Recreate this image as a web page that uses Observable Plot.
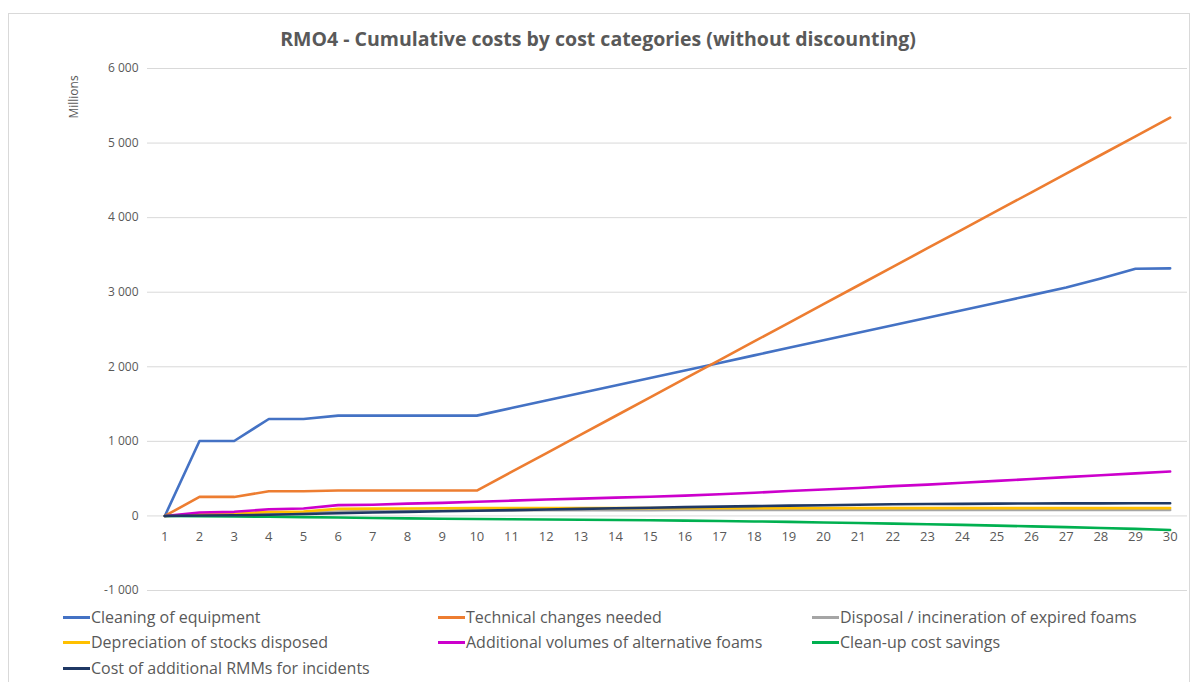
<!DOCTYPE html>
<html>
<head>
<meta charset="utf-8">
<script src="https://cdn.jsdelivr.net/npm/d3@7"></script>
<script src="https://cdn.jsdelivr.net/npm/@observablehq/plot@0.6"></script>
<style>
  html, body { margin: 0; padding: 0; background: #fff; }
  #wrap { position: relative; width: 1192px; height: 682px; overflow: hidden; font-family: "Open Sans", sans-serif; color: #595959; }
  #frame { position: absolute; left: 8px; top: 13px; width: 1182px; height: 680px; border: 1px solid #d9d9d9; box-sizing: border-box; }
  #title { position: absolute; left: 0; width: 1196px; top: 25px; text-align: center; font-size: 19.5px; font-weight: bold; color: #595959; }
  #unit { position: absolute; left: 73px; top: 97px; transform: translate(-50%, -50%) rotate(-90deg); font-size: 12px; color: #595959; white-space: nowrap; }
  #chart { position: absolute; left: 0; top: 0; }
  .leg { position: absolute; font-size: 16px; color: #595959; white-space: nowrap; display: flex; align-items: center; }
  .leg span.sw { display: inline-block; width: 27px; height: 3px; margin-right: 1px; }
</style>
</head>
<body>
<div id="wrap">
  <div id="frame"></div>
  <div id="chart"></div>
  <div id="title">RMO4 - Cumulative costs by cost categories (without discounting)</div>
  <div id="unit">Millions</div>
  <div id="legend"></div>
</div>
<script>
// ---- data ----
const years = [1,2,3,4,5,6,7,8,9,10,11,12,13,14,15,16,17,18,19,20,21,22,23,24,25,26,27,28,29,30];
const yTicks = [-1000, 0, 1000, 2000, 3000, 4000, 5000, 6000];

const seriesNames = [
  "Cleaning of equipment",
  "Technical changes needed",
  "Disposal / incineration of expired foams",
  "Depreciation of stocks disposed",
  "Additional volumes of alternative foams",
  "Clean-up cost savings",
  "Cost of additional RMMs for incidents"
];
const seriesColors = ["#4472C4", "#ED7D31", "#A5A5A5", "#FFC000", "#CC00CC", "#00B050", "#1F3864"];

const cleaning = [0,1005,1005,1300,1300,1345,1345,1345,1345,1345,1446,1547,1648,1749,1850,1951,2052,2153,2254,2355,2456,2557,2658,2759,2860,2961,3062,3185,3315,3320];
const technical = [0,255,255,330,330,340,340,340,340,340,590,840,1090,1340,1590,1840,2090,2340,2590,2840,3090,3340,3590,3840,4090,4340,4590,4840,5090,5340];
const disposal = [0,15,20,35,40,60,65,70,72,74,75,76,77,78,78,79,79,80,80,80,80,80,80,80,80,80,80,80,80,80];
const depreciation = [0,25,30,55,60,95,98,100,102,104,105,105,105,105,105,105,105,105,105,105,105,105,105,105,105,105,105,105,105,105];
const additional = [0,45,55,90,100,145,150,165,175,190,205,220,232,245,258,272,290,310,335,355,375,400,420,445,470,495,520,545,570,595];
const cleanup = [0,-5,-8,-12,-16,-22,-28,-33,-38,-42,-45,-48,-51,-54,-58,-63,-68,-74,-80,-88,-95,-103,-111,-120,-130,-140,-150,-161,-174,-188];
const rmm = [0,5,10,15,25,35,45,55,62,70,78,86,94,102,110,118,125,132,138,144,150,156,160,162,165,167,168,169,170,170];

const seriesValues = [cleaning, technical, disposal, depreciation, additional, cleanup, rmm];

const rows = seriesValues.flatMap((vals, i) =>
  vals.map((v, j) => ({ series: seriesNames[i], year: years[j], value: v }))
);

const fmt = d => d3.format(",")(d).replace(/,/g, " ").replace("−", "-");

const chart = Plot.plot({
  width: 1192,
  height: 620,
  marginLeft: 147,
  marginRight: 5,
  marginTop: 68,
  marginBottom: 30,
  style: { fontFamily: "Open Sans, sans-serif", fontSize: "12px", color: "#595959", background: "transparent" },
  x: { type: "point", domain: years, padding: 0.5, round: false, axis: null },
  y: { domain: [-1000, 6000], ticks: yTicks, tickFormat: fmt, tickSize: 0, tickPadding: 9, label: null },
  color: { domain: seriesNames, range: seriesColors },
  marks: [
    Plot.ruleY(yTicks, { stroke: "#d9d9d9", strokeWidth: 1 }),
    Plot.lineY(rows, { x: "year", y: "value", stroke: "series", strokeWidth: 2.6, z: "series" }),
    Plot.text(years, { x: d => d, y: () => 0, dy: 21, text: d => String(d), fill: "#595959", fontSize: 13 })
  ]
});
document.getElementById("chart").appendChild(chart);

// legend
const legendPos = [
  [63, 617], [438, 617], [812, 617],
  [63, 642], [438, 642], [812, 642],
  [63, 668]
];
const leg = document.getElementById("legend");
seriesNames.forEach((name, i) => {
  const el = document.createElement("div");
  el.className = "leg";
  el.style.left = legendPos[i][0] + "px";
  el.style.top = (legendPos[i][1] - 11) + "px";
  el.style.height = "22px";
  const sw = document.createElement("span");
  sw.className = "sw";
  sw.style.background = seriesColors[i];
  el.appendChild(sw);
  el.appendChild(document.createTextNode(name));
  leg.appendChild(el);
});
</script>
</body>
</html>
